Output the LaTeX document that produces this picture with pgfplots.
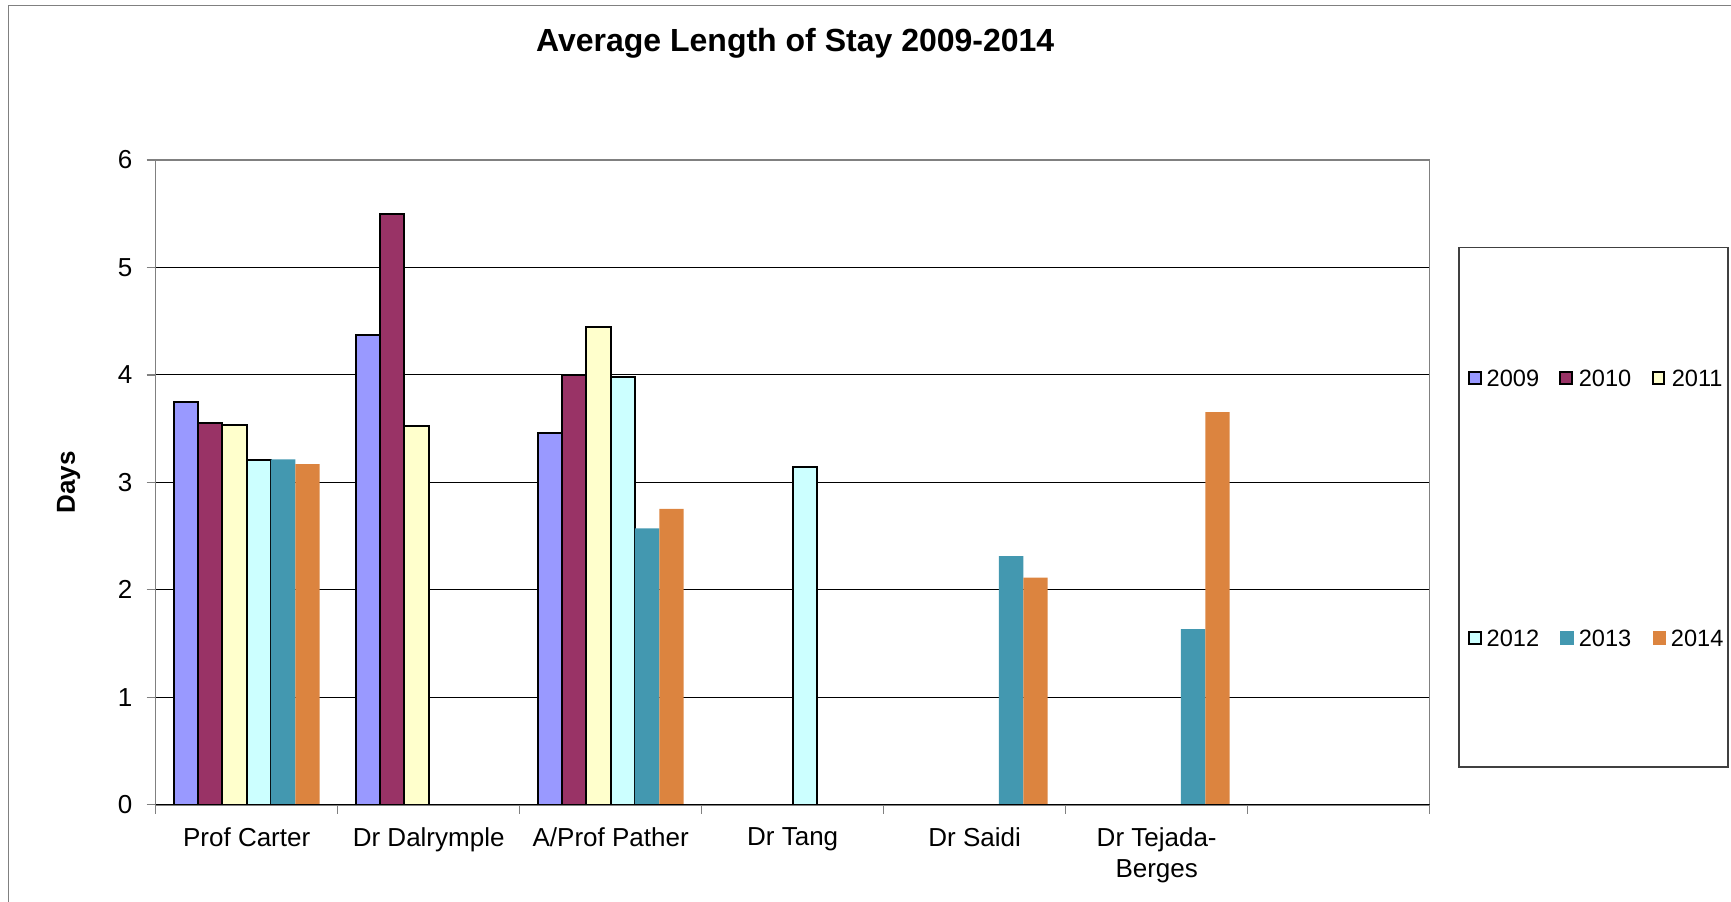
\documentclass[border=0pt]{standalone}
\usepackage{pgfplots}
\pgfplotsset{compat=1.18}
\usepackage{fontspec}
\setmainfont{Liberation Sans}
\definecolor{c09}{HTML}{9999FF}
\definecolor{c10}{HTML}{993366}
\definecolor{c11}{HTML}{FFFFCC}
\definecolor{c12}{HTML}{CCFFFF}
\definecolor{c13}{HTML}{4398B0}
\definecolor{c14}{HTML}{DC843F}
\definecolor{framegray}{HTML}{808080}
\pgfplotsset{sq/.style={legend image code/.code={\draw[##1] (0pt,-1.9pt) rectangle (5.8pt,3.9pt);}},
  sqf/.style={legend image code/.code={\fill[##1] (0pt,-2.4pt) rectangle (6.8pt,4.4pt);}}}
\begin{document}
\begin{tikzpicture}[x=1pt,y=1pt]
\useasboundingbox (-77.85,-48.1) rectangle (787.65,402.4);
\draw[framegray, line width=0.7pt] (-73.45,-60) -- (-73.45,399.65) -- (800,399.65);
\draw[black!75, line width=0.6pt] (786.15,18.9) -- (651.65,18.9) -- (651.65,278.65) -- (786.15,278.65) -- cycle;
\begin{axis}[
  at={(0,0)}, anchor=south west, scale only axis,
  width=637pt, height=322.4pt,
  xmin=-0.5, xmax=6.5, ymin=0, ymax=6,
  xtick={-0.5,0.5,1.5,2.5,3.5,4.5,5.5,6.5},
  x tick label as interval,
  xticklabels={Prof Carter,Dr Dalrymple,A/Prof Pather,Dr Tang,Dr Saidi,{Dr Tejada-\\Berges},{},{}},
  ytick={0,1,2,3,4,5,6},
  xtick pos=bottom, ytick pos=left,
  tick align=outside, major tick length=4.5pt,
  tick style={framegray, line width=0.6pt},
  axis line style={framegray, line width=0.7pt},
  ymajorgrids, grid style={black, line width=0.5pt},
  /pgf/number format/assume math mode=true,
  ticklabel style={font=\fontsize{13}{15.5}\selectfont},
  xticklabel style={align=center, anchor=north, inner sep=0pt, yshift=-6.6pt},
  yticklabel style={anchor=east, inner sep=0pt, xshift=-7pt},
  ylabel={Days},
  ylabel style={at={(axis description cs:-0.0683,0.5)}, anchor=center, font=\bfseries\fontsize{13}{15}\selectfont},
  title={Average Length of Stay 2009-2014},
  title style={at={(axis description cs:0.502,1.149)}, anchor=base, font=\bfseries\fontsize{16}{19}\selectfont},
  ybar, bar width=0.1334,
  legend columns=3,
  legend style={draw=none, fill=none, at={(axis description cs:1.0303,0.6768)}, anchor=north west,
    inner sep=0pt, outer sep=0pt, font=\fontsize{11.8}{14}\selectfont,
    nodes={inner sep=0pt, text height=9pt, text depth=2.5pt},
    column sep=2.4pt, row sep=118.45pt,
    /tikz/every even column/.append style={column sep=10.1pt}},
]
\addplot[sq, fill=c09, draw=black, line width=1pt, bar shift=-0.3335] coordinates {(0,3.75) (1,4.375) (2,3.456)};
\addplot[sq, fill=c10, draw=black, line width=1pt, bar shift=-0.2001] coordinates {(0,3.556) (1,5.50) (2,4.00)};
\addplot[sq, fill=c11, draw=black, line width=1pt, bar shift=-0.0667] coordinates {(0,3.536) (1,3.528) (2,4.448)};
\addplot[sq, fill=c12, draw=black, line width=1pt, bar shift=0.0667] coordinates {(0,3.206) (2,3.98) (3,3.146)};
\addplot[sqf, fill=c13, draw=none, bar shift=0.2001] coordinates {(0,3.214) (2,2.573) (4,2.313) (5,1.635)};
\addplot[sqf, fill=c14, draw=none, bar shift=0.3335] coordinates {(0,3.169) (2,2.754) (4,2.115) (5,3.653)};
\legend{2009,2010,2011,2012,2013,2014}
\draw[black, line width=1pt] (rel axis cs:0,0) -- (rel axis cs:1,0);
\end{axis}
\end{tikzpicture}
\end{document}
